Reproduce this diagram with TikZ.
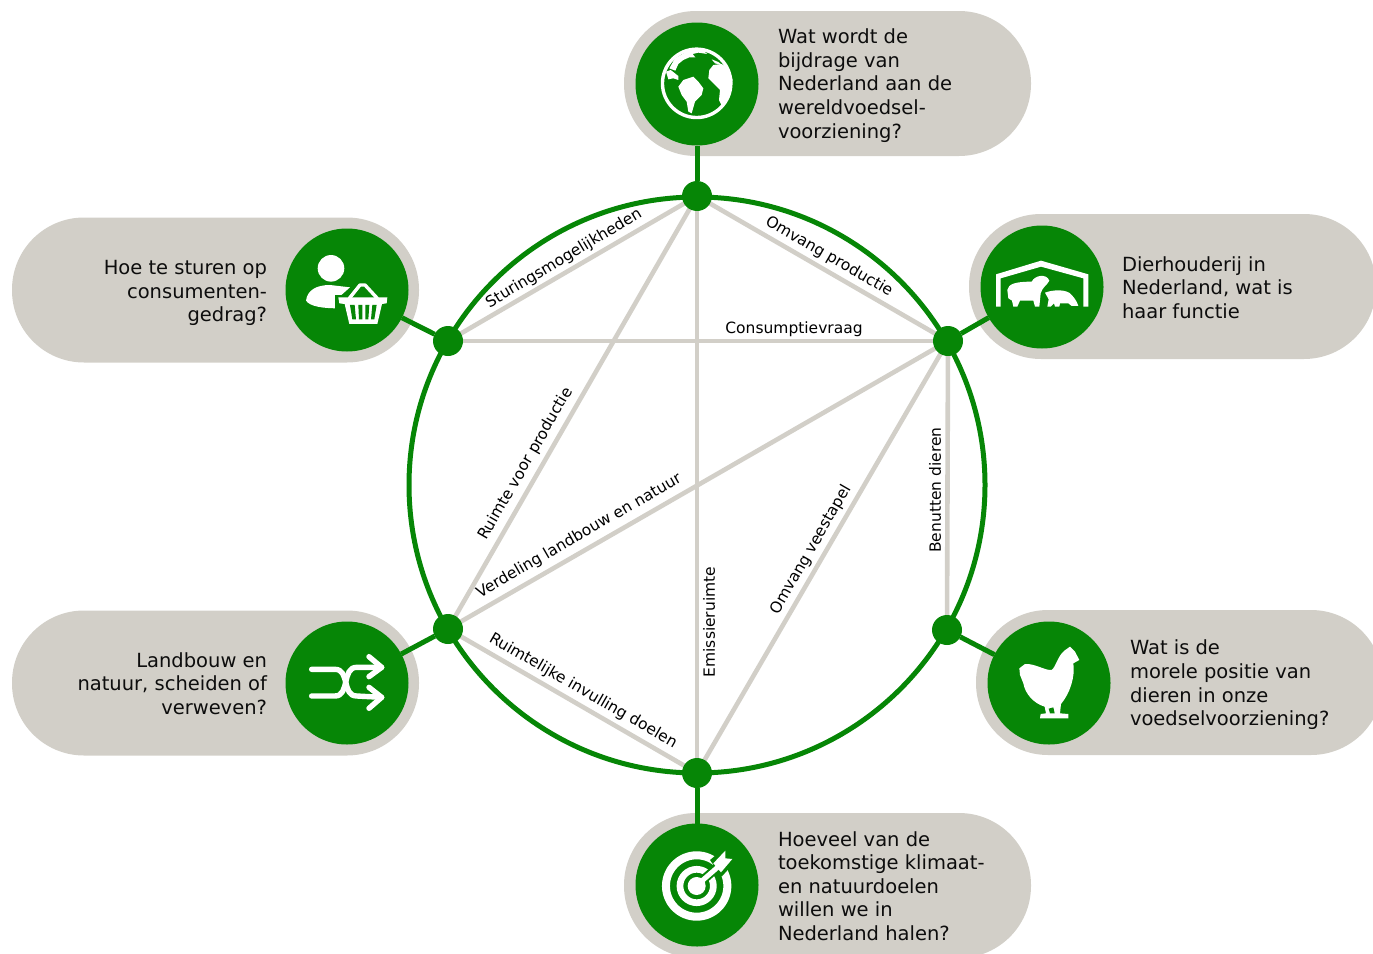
\documentclass[tikz,border=0pt]{standalone}
\usepackage{fontspec}
\setmainfont{DejaVu Sans}
\definecolor{gr}{HTML}{068606}
\definecolor{pillc}{HTML}{D2CFC8}
\pgfdeclarelayer{pills}\pgfdeclarelayer{lines}
\pgfsetlayers{pills,lines,main}
\tikzset{
 pill/.style={rectangle,fill=pillc,draw=none,rounded corners=72pt,minimum width=407pt,minimum height=145pt,inner sep=0pt,outer sep=0pt},
 disc/.style={circle,fill=gr,draw=none,minimum size=123pt,inner sep=0pt,outer sep=0pt},
 dot/.style={circle,fill=gr,draw=none,minimum size=30pt,inner sep=0pt,outer sep=0pt},
 ringc/.style={circle,draw=gr,line width=5pt,minimum size=576pt,inner sep=0pt,outer sep=0pt},
 rel/.style={draw=pillc,line width=4.6pt},
 stem/.style={draw=gr,line width=5pt},
 q/.style={font=\fontsize{19.5}{23.6}\selectfont,text=black!95,inner sep=0pt,outer sep=0pt},
 ql/.style={q,anchor=west,align=left},
 qr/.style={q,anchor=east,align=right},
 lab/.style={font=\fontsize{15.5}{17}\selectfont,text=black,inner sep=0pt,outer sep=0pt},
 icon/.style={fill=white,draw=none},
 iconl/.style={draw=white,line width=5.4pt,line cap=round,line join=round,fill=none},
}
\begin{document}
\begin{tikzpicture}[x=1pt,y=-1pt]
\clip (0,0) rectangle (1373,953);
% pills
\begin{pgfonlayer}{pills}
\node[pill] (pt) at (827.5,83.5) {};
\node[pill] (pr) at (1172.5,286.5) {};
\node[pill] (pru) at (215.5,290) {};
\node[pill] (pll) at (215.5,683) {};
\node[pill] (prl) at (1179.5,682.5) {};
\node[pill] (pb) at (827.5,885.5) {};
\end{pgfonlayer}
% ring
\node[ringc] (ring) at (697,485) {};
% dots
\node[dot] (n1) at (697,196) {};
\node[dot] (n2) at (948,341) {};
\node[dot] (n3) at (947,630) {};
\node[dot] (n4) at (697,773) {};
\node[dot] (n5) at (448,629) {};
\node[dot] (n6) at (448,341) {};
% discs
\node[disc] (dt) at (697,84) {};
\node[disc] (dr) at (1042,287) {};
\node[disc] (dlu) at (347,290) {};
\node[disc] (dll) at (347,683) {};
\node[disc] (drl) at (1049,683) {};
\node[disc] (db) at (697,885) {};
% relations and stems
\begin{pgfonlayer}{lines}
\draw[rel] (n1.center)--(n2.center);
\draw[rel] (n1.center)--(n6.center);
\draw[rel] (n1.center)--(n5.center);
\draw[rel] (n1.center)--(n4.center);
\draw[rel] (n6.center)--(n2.center);
\draw[rel] (n2.center)--(n5.center);
\draw[rel] (n2.center)--(n4.center);
\draw[rel] (n2.center)--(n3.center);
\draw[rel] (n5.center)--(n4.center);
\draw[stem] (dt)--(n1);
\draw[stem] (dr)--(n2);
\draw[stem] (dlu)--(n6);
\draw[stem] (dll)--(n5);
\draw[stem] (drl)--(n3);
\draw[stem] (db)--(n4);
\end{pgfonlayer}
% question texts
\node[ql] (tt) at (778,85.5) {Wat wordt de\\bijdrage van\\Nederland aan de\\wereldvoedsel-\\voorziening?};
\node[ql] (tr) at (1122,287.5) {Dierhouderij in\\Nederland, wat is\\haar functie};
\node[qr] (tlu) at (267,293) {Hoe te sturen op\\consumenten-\\gedrag?};
\node[qr] (tll) at (267,683.5) {Landbouw en\\natuur, scheiden of\\verweven?};
\node[ql] (trl) at (1130,685) {Wat is de\\morele positie van\\dieren in onze\\voedselvoorziening?};
\node[ql] (tb) at (778,886) {Hoeveel van de\\toekomstige klimaat-\\en natuurdoelen\\willen we in\\Nederland halen?};
% relation labels
\node[lab,rotate=31] (l1) at (564,258.5) {Sturingsmogelijkheden};
\node[lab,rotate=-30] (l2) at (829,257) {Omvang productie};
\node[lab] (l3) at (794,329) {Consumptievraag};
\node[lab,rotate=60] (l4) at (526,464) {Ruimte voor productie};
\node[lab,rotate=30] (l5) at (579,536) {Verdeling landbouw en natuur};
\node[lab,rotate=90] (l6) at (709,622) {Emissieruimte};
\node[lab,rotate=60] (l7) at (811,550) {Omvang veestapel};
\node[lab,rotate=90] (l8) at (935,490) {Benutten dieren};
\node[lab,rotate=-30] (l9) at (583,691) {Ruimtelijke invulling doelen};
% globe icon
\begin{scope}[shift={(650,40)},x=0.3333pt,y=-0.3333pt]
\draw[draw=white,line width=3.4pt] (140,130) circle[radius=34.2pt];
\fill[icon] (58,85)--(75,55)--(110,35)--(150,25)--(172,42)--(145,38)--(128,42)--(136,52)--(118,52)--(100,60)--(85,72)--(76,92)--cycle;
\fill[icon] (185,58)--(205,66)--(218,76)--(195,70)--cycle;
\fill[icon] (178,90)--(190,75)--(215,72)--(235,85)--(248,120)--(236,165)--(215,197)--(207,180)--(210,150)--(190,130)--(175,115)--cycle;
\fill[icon] (85,140)--(100,120)--(130,110)--(145,125)--(160,145)--(155,165)--(135,185)--(125,220)--(115,215)--(110,185)--(95,165)--cycle;
\fill[icon] (48,95)--(62,90)--(85,108)--(85,120)--(70,115)--(55,118)--cycle;
\end{scope}
% barn icon
\begin{scope}[shift={(960,210)},x=0.3333pt,y=-0.3333pt]
\fill[icon] (108,290)--(108,193)--(243,152)--(385,193)--(385,290)--(370,290)--(370,205)--(243,170)--(122,205)--(122,290)--cycle;
\fill[icon] (142,240) .. controls (145,222) and (165,215) .. (215,215) .. controls (225,195) and (260,190) .. (268,212) .. controls (262,225) and (248,230) .. (242,250) -- (238,290) -- (225,290) -- (220,272) -- (180,272) -- (172,290) -- (160,290) -- (156,272) -- (145,265) -- cycle;
\fill[icon] (255,248) .. controls (275,240) and (320,235) .. (335,255) .. controls (345,265) and (352,278) .. (355,288) -- (335,288) -- (325,280) -- (300,280) -- (298,290) -- (285,290) -- (282,280) -- (272,290) -- (262,290) -- (266,268) -- cycle;
\end{scope}
% consumer icon
\begin{scope}[shift={(270,230)},x=0.3333pt,y=-0.3333pt]
\fill[icon] (183,115) circle[radius=13.3pt];
\fill[icon] (108,212) .. controls (112,180) and (140,165) .. (180,165) -- (240,172) -- (203,205) -- (205,235) .. controls (160,235) and (120,230) .. (108,212) -- cycle;
\fill[gr] (195,195) rectangle (365,295);
\draw[draw=white,line width=3.4pt,line join=round,line cap=round] (238,205)--(270,165)--(285,165)--(322,205);
\fill[icon] (205,202)--(352,202)--(350,220)--(336,222)--(322,282)--(238,282)--(224,222)--(208,220)--cycle;
\fill[gr] (240,225)--(254,225)--(258,268)--(247,268)--cycle;
\fill[gr] (265,225)--(277,225)--(277,268)--(267,268)--cycle;
\fill[gr] (286,225)--(298,225)--(295,268)--(286,268)--cycle;
\fill[gr] (307,225)--(320,225)--(313,268)--(303,268)--cycle;
\end{scope}
% shuffle icon
\begin{scope}[shift={(270,610)},x=0.3333pt,y=-0.3333pt]
\draw[iconl] (125,178)--(195,178) .. controls (240,178) and (215,258) .. (260,258) -- (335,262);
\draw[iconl] (125,258)--(195,258) .. controls (240,258) and (215,172) .. (260,172) -- (335,172);
\draw[iconl] (297,140)--(335,172)--(297,200);
\draw[iconl] (297,232)--(335,262)--(297,295);
\end{scope}
% hen icon
\begin{scope}[shift={(970,610)},x=0.3333pt,y=-0.3333pt]
\fill[icon] (148,175)--(165,162) .. controls (195,160) and (225,182) .. (245,180) .. controls (258,170) and (262,140) .. (283,122)--(300,110)--(315,125)--(328,150)--(310,160) .. controls (316,200) and (300,250) .. (273,282)--(270,310)--(295,312)--(295,325)--(210,325)--(212,312)--(228,310)--(224,290) .. controls (190,280) and (165,250) .. (160,220) -- (150,195) -- cycle;
\fill[gr] (236,296)--(250,292)--(254,310)--(240,310)--cycle;
\end{scope}
% target icon
\begin{scope}[shift={(620,810)},x=0.3333pt,y=-0.3333pt]
\draw[draw=white,line width=8pt] (230,228) circle[radius=30.7pt];
\draw[draw=white,line width=6.7pt] (230,228) circle[radius=16.7pt];
\draw[draw=gr,line width=9pt] (235,222)--(300,165);
\fill[gr] (270,150)--(318,110)--(350,150)--(305,200)--cycle;
\fill[icon] (230,228) circle[radius=9pt];
\draw[draw=white,line width=5pt] (235,222)--(295,170);
\fill[icon] (280,160)--(316,122)--(316,145)--(337,147)--(303,187)--cycle;
\end{scope}
\end{tikzpicture}
\end{document}
